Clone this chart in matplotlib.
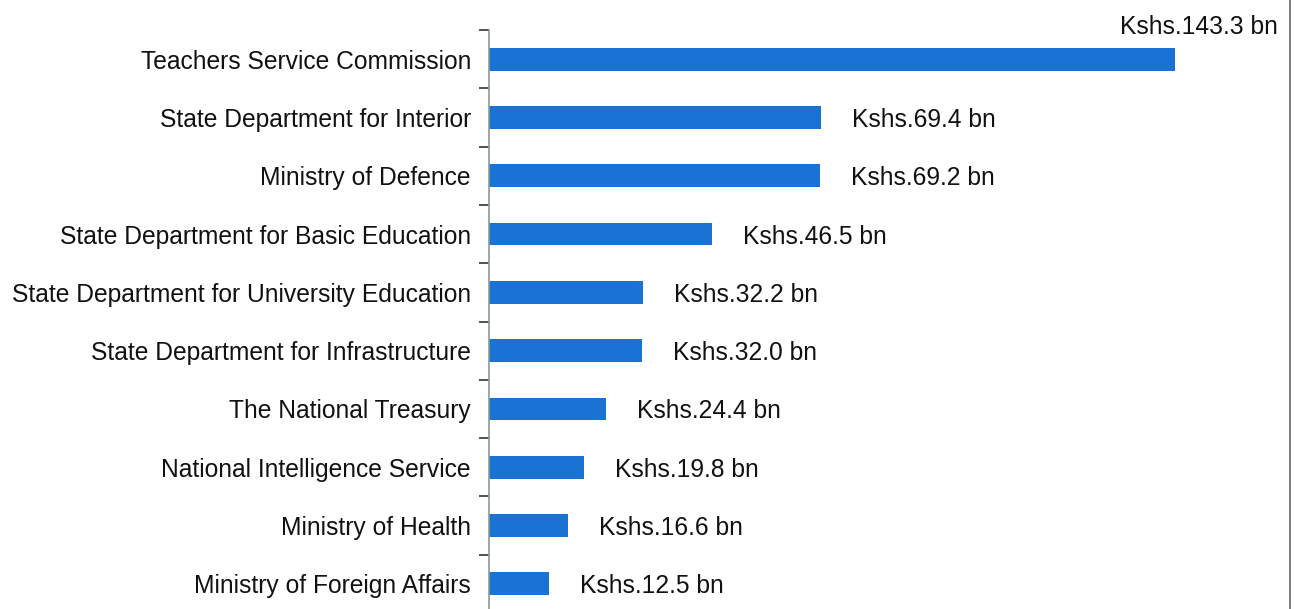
import matplotlib.pyplot as plt
from matplotlib.lines import Line2D

plt.rcParams['font.family'] = ['Liberation Sans', 'DejaVu Sans']

categories = ['Teachers Service Commission', 'State Department for Interior',
              'Ministry of Defence', 'State Department for Basic Education',
              'State Department for University Education',
              'State Department for Infrastructure', 'The National Treasury',
              'National Intelligence Service', 'Ministry of Health',
              'Ministry of Foreign Affairs']
values = [143.3, 69.4, 69.2, 46.5, 32.2, 32.0, 24.4, 19.8, 16.6, 12.5]
labels = ['Kshs.{:.1f} bn'.format(v) for v in values]

W, H = 1294, 609
FS = 17.7
fig = plt.figure(figsize=(W / 100, H / 100), dpi=100)
ax = fig.add_axes([489 / W, 0, (W - 489) / W, 1 - 30 / H])

pos = list(range(len(categories)))
ax.barh(pos, values, height=0.39, color='#1a72d4')
ax.set_xlim(0, (W - 489) / 4.787)
ax.set_ylim(-0.5 + (H - 30) / 58.3, -0.5)

ax.set_yticks(pos)
ax.set_yticklabels(categories, fontsize=FS, color='#111111')
for t in ax.get_yticklabels():
    t.set_verticalalignment('center_baseline')
ax.set_yticks([p - 0.5 for p in pos], minor=True)
ax.tick_params(axis='y', which='major', length=0, pad=13)
ax.tick_params(axis='y', which='minor', length=7, width=1.2, color='#333333')
ax.set_xticks([])
for s in ['top', 'right', 'bottom']:
    ax.spines[s].set_visible(False)
ax.spines['left'].set_color('#8a9a94')
ax.spines['left'].set_linewidth(1.2)

for i, (v, lab) in enumerate(zip(values, labels)):
    if i == 0:
        ax.annotate(lab, xy=(1, 1), xycoords='axes fraction', xytext=(-16, 6),
                    textcoords='offset pixels', ha='right', va='center_baseline',
                    fontsize=FS, color='#111111', annotation_clip=False)
    else:
        ax.annotate(lab, xy=(v, i), xytext=(31, 0), textcoords='offset pixels',
                    ha='left', va='center_baseline', fontsize=FS, color='#111111')

fig.add_artist(Line2D([1290 / W, 1290 / W], [0, 1], color='#666666', lw=1.2))

fig.savefig('out.png', dpi=100)
